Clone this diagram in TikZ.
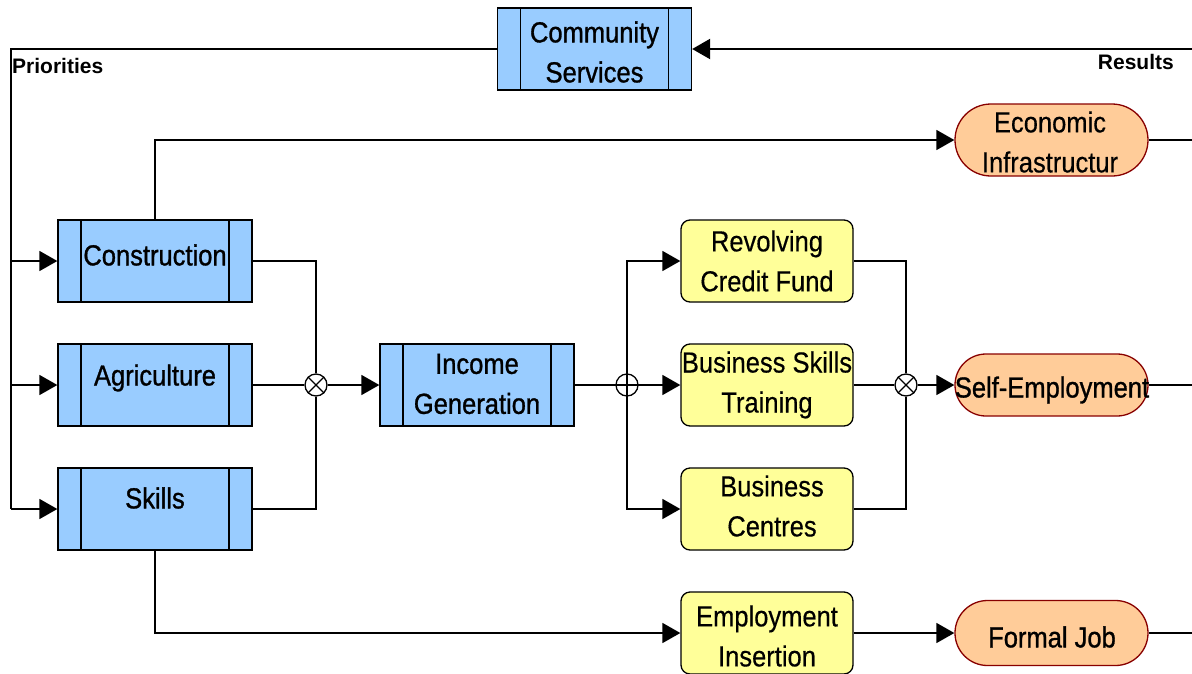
\documentclass[tikz,border=0pt]{standalone}
\usepackage{fontspec}
\setmainfont{Liberation Sans}[FakeStretch=0.88, FakeBold=0.4]
\newfontfamily\heavyfont{Liberation Sans}[FakeStretch=0.88, FakeBold=1.0]
\newfontfamily\labelfont{Liberation Sans}
\usetikzlibrary{arrows.meta,shapes.misc}

\definecolor{procblue}{HTML}{99CCFF}
\definecolor{actyellow}{HTML}{FFFF99}
\definecolor{resorange}{HTML}{FFCC99}
\definecolor{resborder}{HTML}{880000}

\tikzset{
  ln/.style={line width=1.6pt, draw=black},
  bus/.style={line width=2.2pt, draw=black},
  arr/.style={-{Triangle[length=18pt,width=20pt]}},
  procbox/.style={draw=black, line width=1.3pt, fill=procblue,
    minimum width=194pt, minimum height=82pt, inner sep=0pt,
    path picture={
      \draw[line width=1.3pt]
        ([xshift=23pt]path picture bounding box.north west) --
        ([xshift=23pt]path picture bounding box.south west)
        ([xshift=-23pt]path picture bounding box.north east) --
        ([xshift=-23pt]path picture bounding box.south east);
    }},
  actbox/.style={draw=black, line width=1.3pt, fill=actyellow,
    rounded corners=9pt, minimum width=172pt, minimum height=82pt, inner sep=0pt},
  resbox/.style={rounded rectangle, draw=resborder, line width=1.3pt,
    fill=resorange, minimum width=193pt, inner sep=0pt},
  txt/.style={font=\fontsize{29}{40}\selectfont, align=center, inner sep=0pt},
  htxt/.style={font=\heavyfont\fontsize{29}{40}\selectfont, align=center, inner sep=0pt},
  lbl/.style={font=\labelfont\bfseries\fontsize{21}{24}\selectfont, inner sep=0pt},
  junc/.style={circle, draw=black, fill=white, line width=1.3pt,
    minimum size=22pt, inner sep=0pt},
}

\begin{document}
\begin{tikzpicture}[x=1pt,y=-1pt]
\useasboundingbox (0,0) rectangle (1192,673);

% process boxes
\node[procbox] (cs) at (594.5,49) {};
\node[procbox] (constr) at (155,261) {};
\node[procbox] (agri) at (155,385) {};
\node[procbox] (skills) at (155,509) {};
\node[procbox] (income) at (477,385) {};

% activity boxes
\node[actbox] (rcf) at (767,261) {};
\node[actbox] (bst) at (767,385) {};
\node[actbox] (bc) at (767,509) {};
\node[actbox] (ei) at (767,633) {};

% result boxes
\node[resbox, minimum height=72pt] (econ) at (1051.5,140) {};
\node[resbox, minimum height=62pt] (self) at (1051.5,385) {};
\node[resbox, minimum height=65pt] (fj) at (1051.5,633) {};

% box texts
\node[htxt] (csT) at (594.5,52) {Community\\Services};
\node[htxt] (constrT) at (155,255) {Construction};
\node[htxt] (agriT) at (155,378) {Agriculture};
\node[htxt] (skillsT) at (155,498) {Skills};
\node[htxt] (incomeT) at (477,384) {Income\\Generation};
\node[txt] (rcfT) at (767,261) {Revolving\\Credit Fund};
\node[txt] (bstT) at (767,385) {Business Skills\\Training};
\node[txt] (bcT) at (772,506) {Business\\Centres};
\node[txt] (eiT) at (767,636) {Employment\\Insertion};
\node[txt] (econT) at (1050,142) {Economic\\Infrastructur};
\node[htxt] (selfT) at (1052,390) {Self-Employment};
\node[htxt] (fjT) at (1052,637) {Formal Job};

% side labels
\node[lbl, anchor=west] (prio) at (12,66) {Priorities};
\node[lbl, anchor=east] (res) at (1174,62) {Results};

% junctions
\node[junc] (j1) at (316,385) {};
\node[junc] (j2) at (627,385) {};
\node[junc] (j3) at (906,385) {};
\draw[line width=1.3pt] (j1.north east) -- (j1.south west) (j1.north west) -- (j1.south east);
\draw[line width=1.3pt] (j3.north east) -- (j3.south west) (j3.north west) -- (j3.south east);
\draw[line width=1.3pt] (j2.north) -- (j2.south) (j2.west) -- (j2.east);

% feedback loop and priorities bus
\coordinate (busTop) at (11,49);
\coordinate (resIn) at (1192,49);
\draw[bus] (cs.west) -- (busTop) -- (busTop |- skills.west);
\draw[bus, arr] (resIn) -- (cs.east);
\draw[ln, arr] (busTop |- constr.west) -- (constr.west);
\draw[ln, arr] (busTop |- agri.west) -- (agri.west);
\draw[ln, arr] (busTop |- skills.west) -- (skills.west);

% construction to economic infrastructure
\coordinate (econBend) at (155,140);
\draw[ln, arr] (constr.north) -- (econBend) -- (econ.west);
\coordinate (econOut) at (1192,140);
\draw[ln] (econ.east) -- (econOut);

% sectors into income generation
\draw[ln] (constr.east) -| (j1.north);
\draw[ln] (agri.east) -- (j1.west);
\draw[ln] (skills.east) -| (j1.south);
\draw[ln, arr] (j1.east) -- (income.west);

% income generation into activities
\draw[ln] (income.east) -- (j2.west);
\draw[ln, arr] (j2.north) |- (rcf.west);
\draw[ln, arr] (j2.east) -- (bst.west);
\draw[ln, arr] (j2.south) |- (bc.west);

% activities into self-employment
\draw[ln] (rcf.east) -| (j3.north);
\draw[ln] (bst.east) -- (j3.west);
\draw[ln] (bc.east) -| (j3.south);
\draw[ln, arr] (j3.east) -- (self.west);
\coordinate (selfOut) at (1192,385);
\draw[ln] (self.east) -- (selfOut);

% skills to formal job
\draw[ln, arr] (skills.south) |- (ei.west);
\draw[ln, arr] (ei.east) -- (fj.west);
\coordinate (fjOut) at (1192,633);
\draw[ln] (fj.east) -- (fjOut);
\end{tikzpicture}
\end{document}
